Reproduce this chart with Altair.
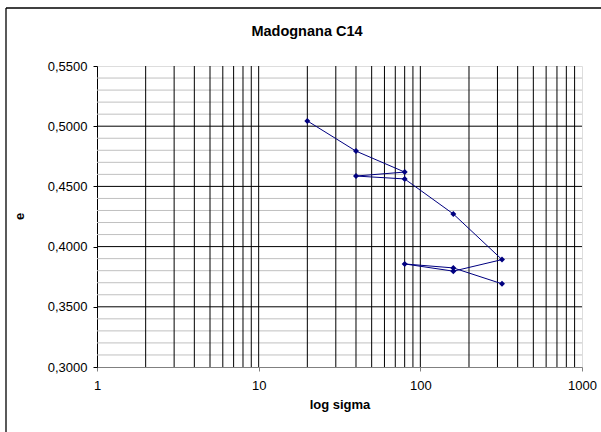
import altair as alt
import pandas as pd

# Oedometer test: void ratio e against vertical stress (log scale), in test order
sigma = [20, 40, 80, 40, 80, 160, 320, 160, 80, 160, 320]
e_val = [0.5044, 0.4793, 0.4619, 0.4586, 0.4562, 0.4271, 0.3892, 0.3796, 0.3856, 0.3823, 0.3691]

# Tick labels
x_ticks = [1, 10, 100, 1000]
y_ticks = [0.30, 0.35, 0.40, 0.45, 0.50, 0.55]

# Gridlines
x_grid = [2, 3, 4, 5, 6, 7, 8, 9, 10, 20, 30, 40, 50, 60, 70, 80, 90, 100,
          200, 300, 400, 500, 600, 700, 800, 900]
y_major = [0.35, 0.40, 0.45, 0.50]
y_minor = [0.31, 0.32, 0.33, 0.34, 0.36, 0.37, 0.38, 0.39, 0.41, 0.42, 0.43, 0.44,
           0.46, 0.47, 0.48, 0.49, 0.51, 0.52, 0.53, 0.54]

TITLE = "Madognana C14"
FONT = "Liberation Sans"

data = pd.DataFrame({"sigma": sigma, "e": e_val, "step": list(range(len(sigma)))})

x_scale = alt.Scale(type="log", domain=[1, 1000], nice=False)
y_scale = alt.Scale(domain=[0.30, 0.55], nice=False, zero=False)

x_axis = alt.Axis(
    values=x_ticks, labelExpr="format(datum.value, 'd')", grid=False,
    domainColor="#808080", tickColor="#808080", tickSize=4, labelPadding=8,
    labelFont=FONT, labelFontSize=13, labelColor="black", labelFlush=False,
    labelOverlap=False, title="log sigma", titleFont=FONT, titleFontSize=13,
    titleFontWeight="bold", titleColor="black", titlePadding=6,
)
y_axis = alt.Axis(
    values=y_ticks, labelExpr="replace(format(datum.value, '.4f'), '.', ',')",
    grid=False, domainColor="black", tickColor="black", tickSize=4, labelPadding=6,
    labelFont=FONT, labelFontSize=13, labelColor="black", labelOverlap=False,
    title="e", titleFont=FONT, titleFontSize=13, titleFontWeight="bold",
    titleColor="black", titleX=-78, titleY=150, titleAngle=-90,
    titleAlign="center", titleBaseline="middle",
)

X = alt.X("sigma:Q", scale=x_scale, axis=x_axis)
Y = alt.Y("e:Q", scale=y_scale, axis=y_axis)

minor = alt.Chart(pd.DataFrame({"e": y_minor})).mark_rule(
    color="#c0c0c0", strokeWidth=1).encode(y=Y)
major = alt.Chart(pd.DataFrame({"e": y_major})).mark_rule(
    color="black", strokeWidth=1).encode(y=Y)
vert = alt.Chart(pd.DataFrame({"sigma": x_grid})).mark_rule(
    color="black", strokeWidth=1).encode(x=X)

line = alt.Chart(data).mark_line(color="#000080", strokeWidth=1).encode(
    x=X, y=Y, order="step:Q")
points = alt.Chart(data).mark_point(
    shape="diamond", filled=True, color="#000080", size=36, opacity=1).encode(x=X, y=Y)

# Chart frame (left and top edges) and heading
one = pd.DataFrame({"k": [0]})
frame_left = alt.Chart(one).mark_rule(color="black", strokeWidth=1.3).encode(
    x=alt.value(-91), y=alt.value(-58), y2=alt.value(400))
frame_top = alt.Chart(one).mark_rule(color="black", strokeWidth=1.3).encode(
    x=alt.value(-91), x2=alt.value(540), y=alt.value(-58))
heading = alt.Chart(one).mark_text(
    text=TITLE, font=FONT, fontSize=14.5, fontWeight="bold", color="black",
    align="center", baseline="middle").encode(x=alt.value(210), y=alt.value(-34))

chart = alt.layer(minor, major, vert, line, points, frame_left, frame_top, heading).properties(
    width=485, height=301,
    autosize="none",
    padding={"left": 97, "top": 66, "right": 19, "bottom": 65},
).configure_view(stroke="#808080", strokeWidth=1).configure(background="white")

chart.save("out.html", embed_options={"renderer": "svg", "actions": False})
